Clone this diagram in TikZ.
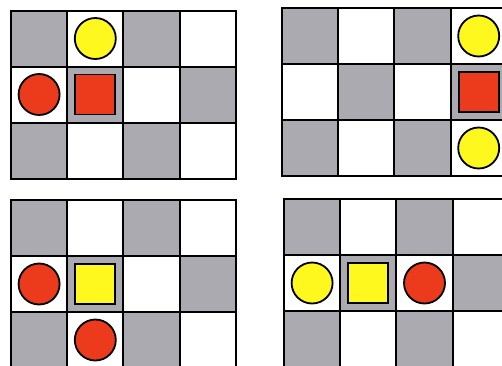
\documentclass[tikz,border=0pt]{standalone}
\usetikzlibrary{positioning}

\definecolor{boardgray}{RGB}{170,170,176}
\definecolor{piecered}{RGB}{236,58,28}
\definecolor{pieceyellow}{RGB}{255,248,30}

\begin{document}
\begin{tikzpicture}[x=1pt, y=-1pt,
      on board/.style 2 args={shift={(#1,#2)}, x=56.2pt, y=-56pt},
      gridline/.style={line width=2pt, line cap=rect},
      piece/.style={draw, line width=1.8pt, minimum size=41pt, inner sep=0pt},
      disc/.style={piece, circle},
      block/.style={piece, rectangle, minimum size=40pt},
      red disc/.style={disc, fill=piecered},
      yellow disc/.style={disc, fill=pieceyellow},
      red block/.style={block, fill=piecered},
      yellow block/.style={block, fill=pieceyellow}]

    \useasboundingbox (0,0) rectangle (502,365);
    \clip (0,0) rectangle (502,365);

    % === checkerboards ===
    \foreach \bx/\by in {11/10.5, 282/8, 11/200, 284/199} {
      \begin{scope}[on board={\bx}{\by}]
        \foreach \c in {0,...,3}
          \foreach \r in {0,...,2} {
            \pgfmathtruncatemacro{\odd}{mod(\c+\r,2)}
            \ifnum\odd=0 \fill[boardgray] (\c,\r) rectangle ++(1,1); \fi
          }
        \foreach \c in {1,2,3} \draw[gridline] (\c,0) -- (\c,3);
        \foreach \r in {1,2} \draw[gridline] (0,\r) -- (4,\r);
        \draw[gridline] (0,0) rectangle (4,3);
      \end{scope}
    }

    % === top left ===
    \begin{scope}[on board={11}{10.5}]
      \node[yellow disc] (tl-y) at (1.5,0.5) {};
      \node[red disc]    (tl-r) at (0.5,1.5) {};
      \node[red block]   (tl-b) at (1.5,1.5) {};
    \end{scope}

    % === top right ===
    \begin{scope}[on board={282}{8}]
      \node[yellow disc] (tr-y1) at (3.5,0.5) {};
      \node[red block]   (tr-b)  at (3.5,1.5) {};
      \node[yellow disc] (tr-y2) at (3.5,2.5) {};
    \end{scope}

    % === bottom left ===
    \begin{scope}[on board={11}{200}]
      \node[red disc]     (bl-r1) at (0.5,1.5) {};
      \node[yellow block] (bl-b)  at (1.5,1.5) {};
      \node[red disc]     (bl-r2) at (1.5,2.5) {};
    \end{scope}

    % === bottom right ===
    \begin{scope}[on board={284}{199}]
      \node[yellow disc]  (br-y) at (0.5,1.5) {};
      \node[yellow block] (br-b) at (1.5,1.5) {};
      \node[red disc]     (br-r) at (2.5,1.5) {};
    \end{scope}

\end{tikzpicture}
\end{document}
